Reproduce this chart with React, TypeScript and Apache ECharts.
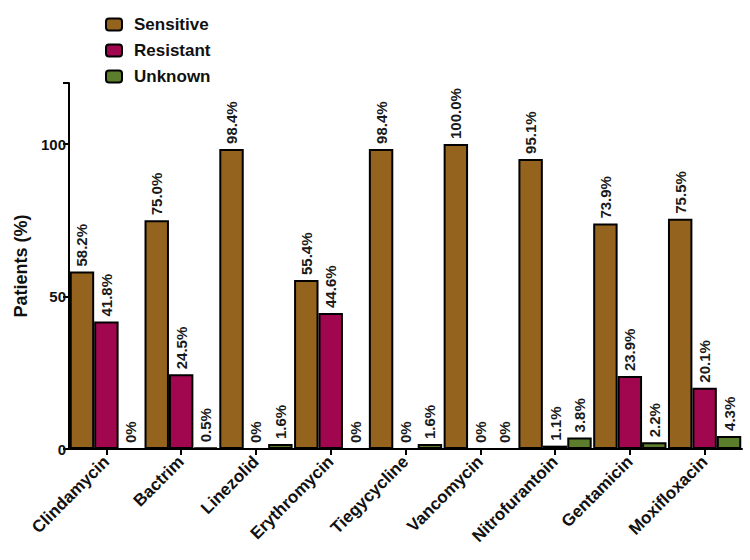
import React, { useEffect, useRef } from "react";
import * as echarts from "echarts";

const categories = ["Clindamycin", "Bactrim", "Linezolid", "Erythromycin", "Tiegycycline", "Vancomycin", "Nitrofurantoin", "Gentamicin", "Moxifloxacin"];
const sensitive = [58.2, 75.0, 98.4, 55.4, 98.4, 100.0, 95.1, 73.9, 75.5];
const resistant = [41.8, 24.5, 0, 44.6, 0, 0, 1.1, 23.9, 20.1];
const unknown = [0, 0.5, 1.6, 0, 1.6, 0, 3.8, 2.2, 4.3];
const yTicks = [0, 50, 100];

const FONT = "Liberation Sans, Arial, Helvetica, sans-serif";

export default function App() {
  const ref = useRef<HTMLDivElement>(null);
  useEffect(() => {
    if (!ref.current) return;
    const chart = echarts.init(ref.current, null, { renderer: "svg" });
    const fmt = (p: any) => (p.value === 0 ? "0%" : Number(p.value).toFixed(1) + "%");
    const mk = (name: string, data: number[], color: string) => ({
      name,
      type: "bar",
      data,
      barGap: "0%",
      barCategoryGap: "2%",
      itemStyle: { color, borderColor: "#000", borderWidth: 2 },
      label: {
        show: true,
        position: "top",
        rotate: 90,
        align: "left",
        verticalAlign: "middle",
        distance: 5,
        formatter: fmt,
        color: "#1a1a1a",
        fontFamily: FONT,
        fontWeight: "bold",
        fontSize: 15,
      },
    });
    chart.setOption({
      animation: false,
      backgroundColor: "#fff",
      textStyle: { fontFamily: FONT },
      legend: {
        orient: "vertical",
        left: 105,
        top: 16,
        padding: 0,
        itemWidth: 16,
        itemHeight: 12,
        itemGap: 9,
        itemStyle: { borderColor: "#000", borderWidth: 2 },
        textStyle: { fontFamily: FONT, fontWeight: "bold", fontSize: 17, color: "#111", padding: [0, 0, 0, 7] },
        data: ["Sensitive", "Resistant", "Unknown"],
      },
      grid: { left: 69, right: 8, top: 83, bottom: 111, containLabel: false },
      xAxis: {
        type: "category",
        data: categories,
        axisLine: { lineStyle: { color: "#000", width: 2 } },
        axisTick: { show: true, alignWithLabel: true, length: 6, lineStyle: { color: "#000", width: 2 } },
        axisLabel: {
          rotate: 45,
          interval: 0,
          margin: 10,
          fontFamily: FONT,
          fontWeight: "bold",
          fontSize: 17,
          color: "#111",
        },
      },
      yAxis: {
        type: "value",
        min: 0,
        max: 120,
        interval: 50,
        name: "Patients (%)",
        nameLocation: "middle",
        nameGap: 33,
        nameTextStyle: { fontFamily: FONT, fontWeight: "bold", fontSize: 18, color: "#111" },
        axisLine: { show: true, lineStyle: { color: "#000", width: 2 } },
        axisTick: { show: true, length: 6, lineStyle: { color: "#000", width: 2 } },
        splitLine: { show: false },
        axisLabel: {
          margin: 3,
          fontFamily: FONT,
          fontWeight: "bold",
          fontSize: 15,
          color: "#111",
          formatter: (v: number) => (yTicks.includes(v) ? String(v) : ""),
        },
      },
      series: [
        mk("Sensitive", sensitive, "#94641f"),
        mk("Resistant", resistant, "#a1074e"),
        mk("Unknown", unknown, "#5c7d2b"),
      ],
    });
    return () => chart.dispose();
  }, []);
  return <div ref={ref} style={{ position: "fixed", left: 0, top: 0, width: 750, height: 560 }} />;
}
